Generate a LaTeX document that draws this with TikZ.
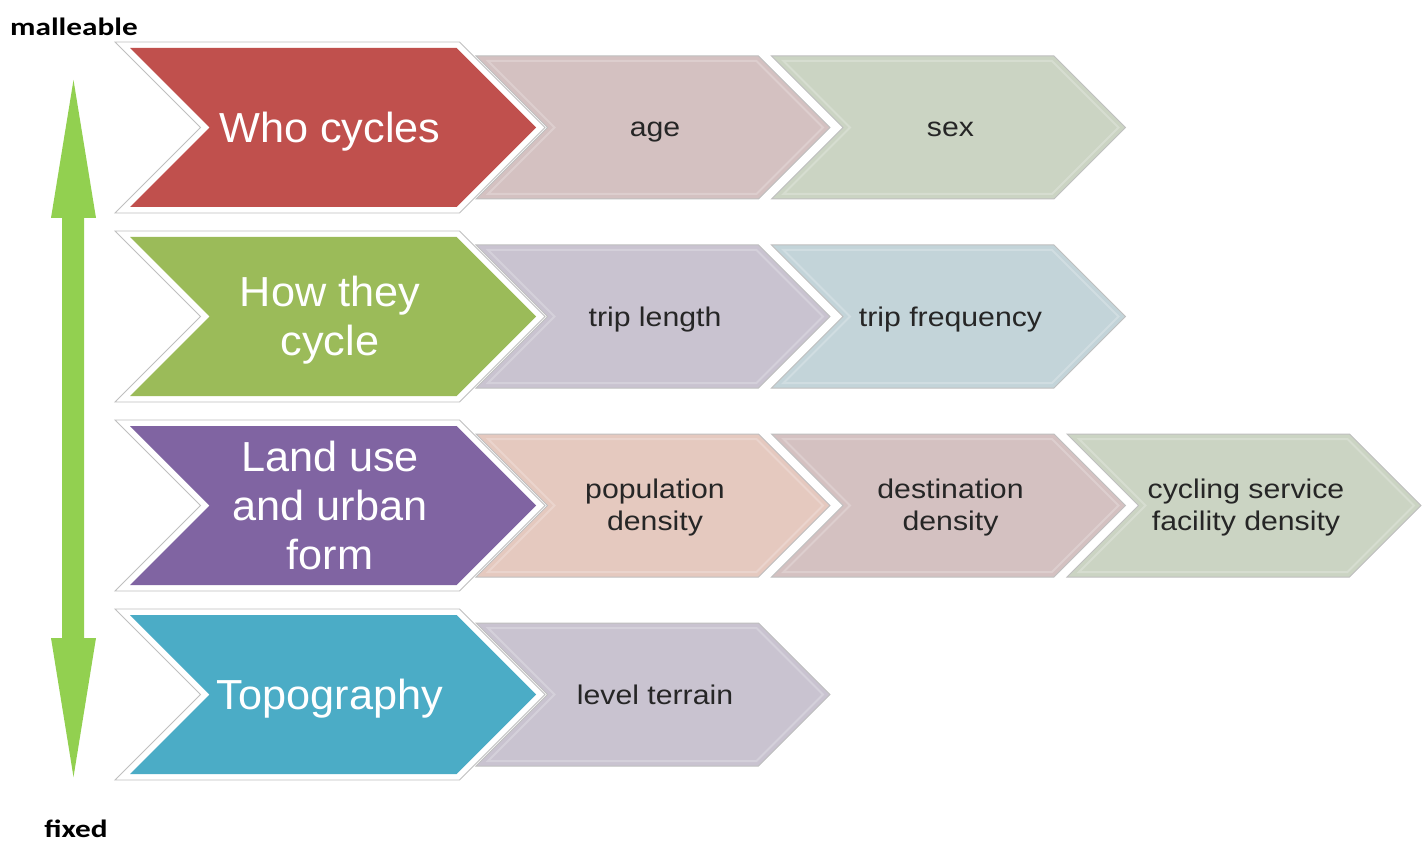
\documentclass[tikz,border=0pt]{standalone}
\usepackage{fontspec}
\newfontfamily\headfont[FakeStretch=1.03]{Liberation Sans}
\newfontfamily\chevfont[FakeStretch=1.12]{Liberation Sans}
\newfontfamily\labfont[FakeStretch=1.25]{Carlito}
\definecolor{redmain}{HTML}{C0504D}
\definecolor{greenmain}{HTML}{9BBB59}
\definecolor{purplemain}{HTML}{8064A2}
\definecolor{aquamain}{HTML}{4BACC6}
\definecolor{subred}{HTML}{D4C1C1}
\definecolor{subgreen}{HTML}{CBD4C3}
\definecolor{sublilac}{HTML}{C9C3D0}
\definecolor{subblue}{HTML}{C3D4D9}
\definecolor{subpeach}{HTML}{E5C9BF}
\definecolor{rimgray}{HTML}{BFBFBF}
\definecolor{arrowgreen}{HTML}{92D050}
\definecolor{subtextcol}{HTML}{262626}

% chevron: left end, centre y, tip x, half height (45 degree edges)
\newcommand\chevpath[4]{(#1,#2-#4) -- (#3-#4,#2-#4) -- (#3,#2) -- (#3-#4,#2+#4) -- (#1,#2+#4) -- (#1+#4,#2) -- cycle}

\tikzset{
  mainrim/.style={draw=rimgray, line width=0.9pt, fill=white},
  subline/.style={draw=rimgray, line width=1pt},
  subrim/.style={draw=white, draw opacity=0.22, line width=2pt},
  maintext/.style={text=white, align=center, font=\headfont\fontsize{42}{49}\selectfont},
  subtext/.style={text=subtextcol, align=center, font=\chevfont\fontsize{27}{32}\selectfont},
  oneline/.style={text height=23pt, text depth=4pt},
  twolines/.style={yshift=-2pt},
  headshift/.style={yshift=-4pt},
  noshift/.style={},
  sidelabel/.style={text=black, font=\labfont\bfseries\fontsize{25}{30}\selectfont}
}

% leading chevron of a row: name, centre y, colour, text, text placement
\newcommand\mainchev[5]{%
  \draw[mainrim] \chevpath{115}{#2}{545}{85.5};
  \fill[#3] \chevpath{130}{#2}{536}{79.5};
  \node[maintext, #5] (#1) at (330,#2) {#4};}

% following chevron: name, left x, centre y, colour, text, text placement
\newcommand\subchev[6]{%
  \draw[subline, fill=#4] \chevpath{#2}{#3}{#2+354}{71.5};
  \draw[subrim] \chevpath{#2+12}{#3}{#2+347}{66.5};
  \node[subtext, #6] (#1) at (#2+179,#3) {#5};}

\begin{document}
\begin{tikzpicture}[x=1pt, y=-1pt]
\useasboundingbox (0,0) rectangle (1426,842);

% row 1
\subchev{age}{476}{127.5}{subred}{age}{oneline}
\subchev{sex}{771.5}{127.5}{subgreen}{sex}{oneline}
\mainchev{who}{127.5}{redmain}{Who cycles}{headshift}

% row 2
\subchev{triplength}{476}{316.5}{sublilac}{trip length}{oneline}
\subchev{tripfreq}{771.5}{316.5}{subblue}{trip frequency}{oneline}
\mainchev{how}{316.5}{greenmain}{How they\\cycle}{headshift}

% row 3
\subchev{popdens}{476}{505.5}{subpeach}{population\\density}{twolines}
\subchev{destdens}{771.5}{505.5}{subred}{destination\\density}{twolines}
\subchev{facdens}{1067}{505.5}{subgreen}{cycling service\\facility density}{twolines}
\mainchev{land}{505.5}{purplemain}{Land use\\and urban\\form}{noshift}

% row 4
\subchev{terrain}{476}{694.5}{sublilac}{level terrain}{oneline}
\mainchev{topo}{694.5}{aquamain}{Topography}{headshift}

% double-headed scale arrow
\fill[arrowgreen] (73.5,80) -- (96,218) -- (84,218) -- (84,638) -- (96,638)
  -- (73.5,777) -- (51,638) -- (62,638) -- (62,218) -- (51,218) -- cycle;

\node[sidelabel, anchor=base west, inner sep=0pt] (malleable) at (10,35.5) {malleable};
\node[sidelabel, anchor=base, inner sep=0pt] (fixed) at (76,837) {fixed};
\end{tikzpicture}
\end{document}
